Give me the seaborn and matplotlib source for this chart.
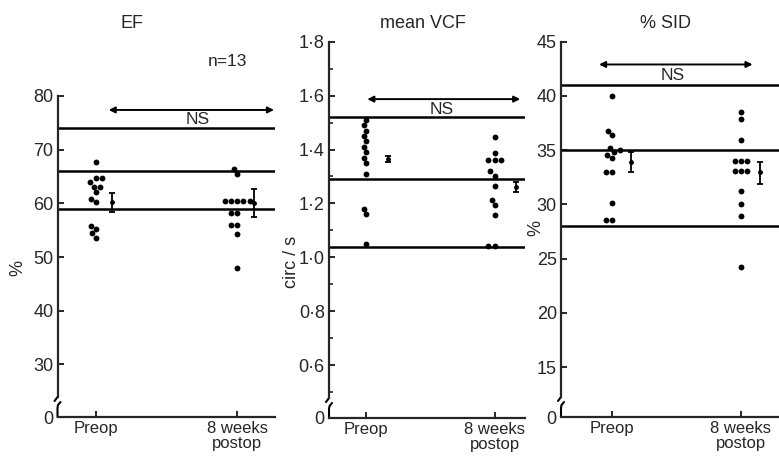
import numpy as np
import pandas as pd
import matplotlib
matplotlib.use("Agg")
import matplotlib.pyplot as plt
import seaborn as sns
from matplotlib import font_manager

# ---------------- data ----------------
groups = ["Preop", "8 weeks\npostop"]

ef_preop = [67.7, 64.8, 64.8, 64.0, 63.1, 63.1, 62.1, 60.8, 60.2, 55.8, 55.2, 54.4, 53.6]
ef_post = [66.4, 65.5, 60.5, 60.5, 60.5, 60.5, 60.5, 58.2, 58.2, 55.9, 55.9, 54.3, 48.0]
ef_mean = [60.2, 60.0]
ef_lo = [58.4, 57.5]
ef_hi = [61.9, 62.6]
ef_ref = [74, 66, 59]

vcf_preop = [1.51, 1.49, 1.47, 1.45, 1.43, 1.41, 1.39, 1.37, 1.35, 1.31, 1.18, 1.16, 1.05]
vcf_post = [1.448, 1.387, 1.362, 1.362, 1.362, 1.319, 1.303, 1.266, 1.214, 1.195, 1.158, 1.041, 1.041]
vcf_mean = [1.365, 1.262]
vcf_lo = [1.352, 1.244]
vcf_hi = [1.376, 1.281]
vcf_ref = [1.52, 1.29, 1.04]

sid_preop = [40.0, 36.8, 36.4, 35.2, 35.0, 34.8, 34.6, 34.3, 33.0, 33.0, 30.1, 28.6, 28.6]
sid_post = [38.5, 37.9, 35.9, 34.0, 34.0, 34.0, 33.1, 33.1, 33.1, 31.2, 30.0, 28.9, 24.2]
sid_mean = [33.9, 33.0]
sid_lo = [33.0, 31.9]
sid_hi = [34.85, 33.9]
sid_ref = [41, 35, 28]

ef_ticks = [30, 40, 50, 60, 70, 80]
ef_ticklabels = ["30", "40", "50", "60", "70", "80"]
vcf_ticks = [0.6, 0.8, 1.0, 1.2, 1.4, 1.6, 1.8]
vcf_ticklabels = ["0·6", "0·8", "1·0", "1·2", "1·4", "1·6", "1·8"]
vcf_minor = [0.5, 0.7, 0.9, 1.1, 1.3, 1.5, 1.7]
sid_ticks = [15, 20, 25, 30, 35, 40, 45]
sid_ticklabels = ["15", "20", "25", "30", "35", "40", "45"]

titles = ["EF", "mean VCF", "% SID"]
ylabels = ["%", "circ / s", "%"]

# ---------------- style ----------------
sns.set_style("ticks")
names = {f.name for f in font_manager.fontManager.ttflist}
fam = "Liberation Sans Narrow" if "Liberation Sans Narrow" in names else "Liberation Sans"
plt.rcParams["font.family"] = [fam, "DejaVu Sans"]
plt.rcParams["axes.linewidth"] = 1.6

W, H = 779, 458
fig = plt.figure(figsize=(W / 100, H / 100), dpi=100)


def px_axes(l, t, r, b):
    return fig.add_axes([l / W, 1 - b / H, (r - l) / W, (b - t) / H])


panels = [
    dict(box=(57.5, 96, 275, 417), ylim=(20.2, 80), xlim=(-0.272, 1.267),
         pre=ef_preop, post=ef_post, mean=ef_mean, lo=ef_lo, hi=ef_hi, ref=ef_ref,
         ticks=ef_ticks, tl=ef_ticklabels, minor=[],
         arrow=(0.09, 1.26, 77.4), ns=(0.72, 75.6), eoff=0.115),
    dict(box=(329, 41.7, 525, 418), ylim=(0.404, 1.8), xlim=(-0.288, 1.237),
         pre=vcf_preop, post=vcf_post, mean=vcf_mean, lo=vcf_lo, hi=vcf_hi, ref=vcf_ref,
         ticks=vcf_ticks, tl=vcf_ticklabels, minor=vcf_minor,
         arrow=(0.01, 1.2, 1.587), ns=(0.59, 1.549), eoff=0.17),
    dict(box=(561, 41.7, 779, 417), ylim=(10.4, 45), xlim=(-0.395, 1.295),
         pre=sid_preop, post=sid_post, mean=sid_mean, lo=sid_lo, hi=sid_hi, ref=sid_ref,
         ticks=sid_ticks, tl=sid_ticklabels, minor=[],
         arrow=(-0.1, 1.09, 42.9), ns=(0.47, 41.9), eoff=0.15),
]

for p in panels:
    ax = px_axes(*p["box"])
    df = pd.DataFrame({
        "time": [groups[0]] * len(p["pre"]) + [groups[1]] * len(p["post"]),
        "value": list(p["pre"]) + list(p["post"]),
    })
    sns.swarmplot(data=df, x="time", y="value", order=groups, color="black",
                  size=4.2, linewidth=0, ax=ax)
    for r in p["ref"]:
        ax.axhline(r, color="black", lw=1.8)
    xs = np.arange(len(groups)) + p["eoff"]
    m = np.array(p["mean"])
    err = np.vstack([m - np.array(p["lo"]), np.array(p["hi"]) - m])
    ax.errorbar(xs, m, yerr=err, fmt="o", ms=2.5, color="black", ecolor="black",
                elinewidth=1.3, capsize=2.5, capthick=1.3)
    x0, x1, ya = p["arrow"]
    ax.annotate("", xy=(x1, ya), xytext=(x0, ya),
                arrowprops=dict(arrowstyle="<|-|>", color="black", lw=1.4,
                                mutation_scale=9, shrinkA=0, shrinkB=0))
    ax.text(p["ns"][0], p["ns"][1], "NS", ha="center", va="center", fontsize=12.5)

    ax.set_xlim(*p["xlim"])
    ax.set_ylim(*p["ylim"])
    ax.set_yticks([p["ylim"][0]] + p["ticks"], ["0"] + p["tl"])
    if p["minor"]:
        ax.set_yticks(p["minor"], minor=True)
    ax.set_xticks(range(len(groups)), groups)
    ax.tick_params(axis="both", which="major", direction="in", length=4, width=1.4,
                   labelsize=13, pad=3)
    ax.tick_params(axis="y", which="minor", direction="in", length=3, width=1.2)
    ax.tick_params(axis="x", pad=3, labelsize=12)
    for lab in ax.get_xticklabels():
        lab.set_linespacing(0.95)
    ax.set_xlabel("")
    ax.set_ylabel("")
    for s in ["top", "right"]:
        ax.spines[s].set_visible(False)

    # axis break near the bottom of the y axis
    hpx = (p["box"][3] - p["box"][1])
    wpx = (p["box"][2] - p["box"][0])
    y0, y1 = p["ylim"]
    hi_frac = 20 / hpx
    ax.spines["left"].set_bounds(y0 + hi_frac * (y1 - y0), y1)
    fx = lambda d: d / wpx
    fy = lambda d: d / hpx
    ax.plot([0, fx(-3)], [fy(20), fy(16)], color="black", lw=1.5,
            transform=ax.transAxes, clip_on=False)
    ax.plot([fx(3), fx(0.5), 0, 0], [fy(15), fy(12), fy(9), 0], color="black", lw=1.5,
            transform=ax.transAxes, clip_on=False)

# titles and labels
for txt, (x, y) in zip(titles, [(132, 23), (423, 24), (665, 24)]):
    fig.text(x / W, 1 - y / H, txt, ha="center", va="center", fontsize=13)
fig.text(227 / W, 1 - 62 / H, "n=13", ha="center", va="center", fontsize=12.5)
for txt, (x, y) in zip(ylabels, [(18, 268), (291, 262), (536, 228)]):
    fig.text(x / W, 1 - y / H, txt, ha="center", va="center", fontsize=13, rotation=90)

fig.savefig("out.png", dpi=100)
